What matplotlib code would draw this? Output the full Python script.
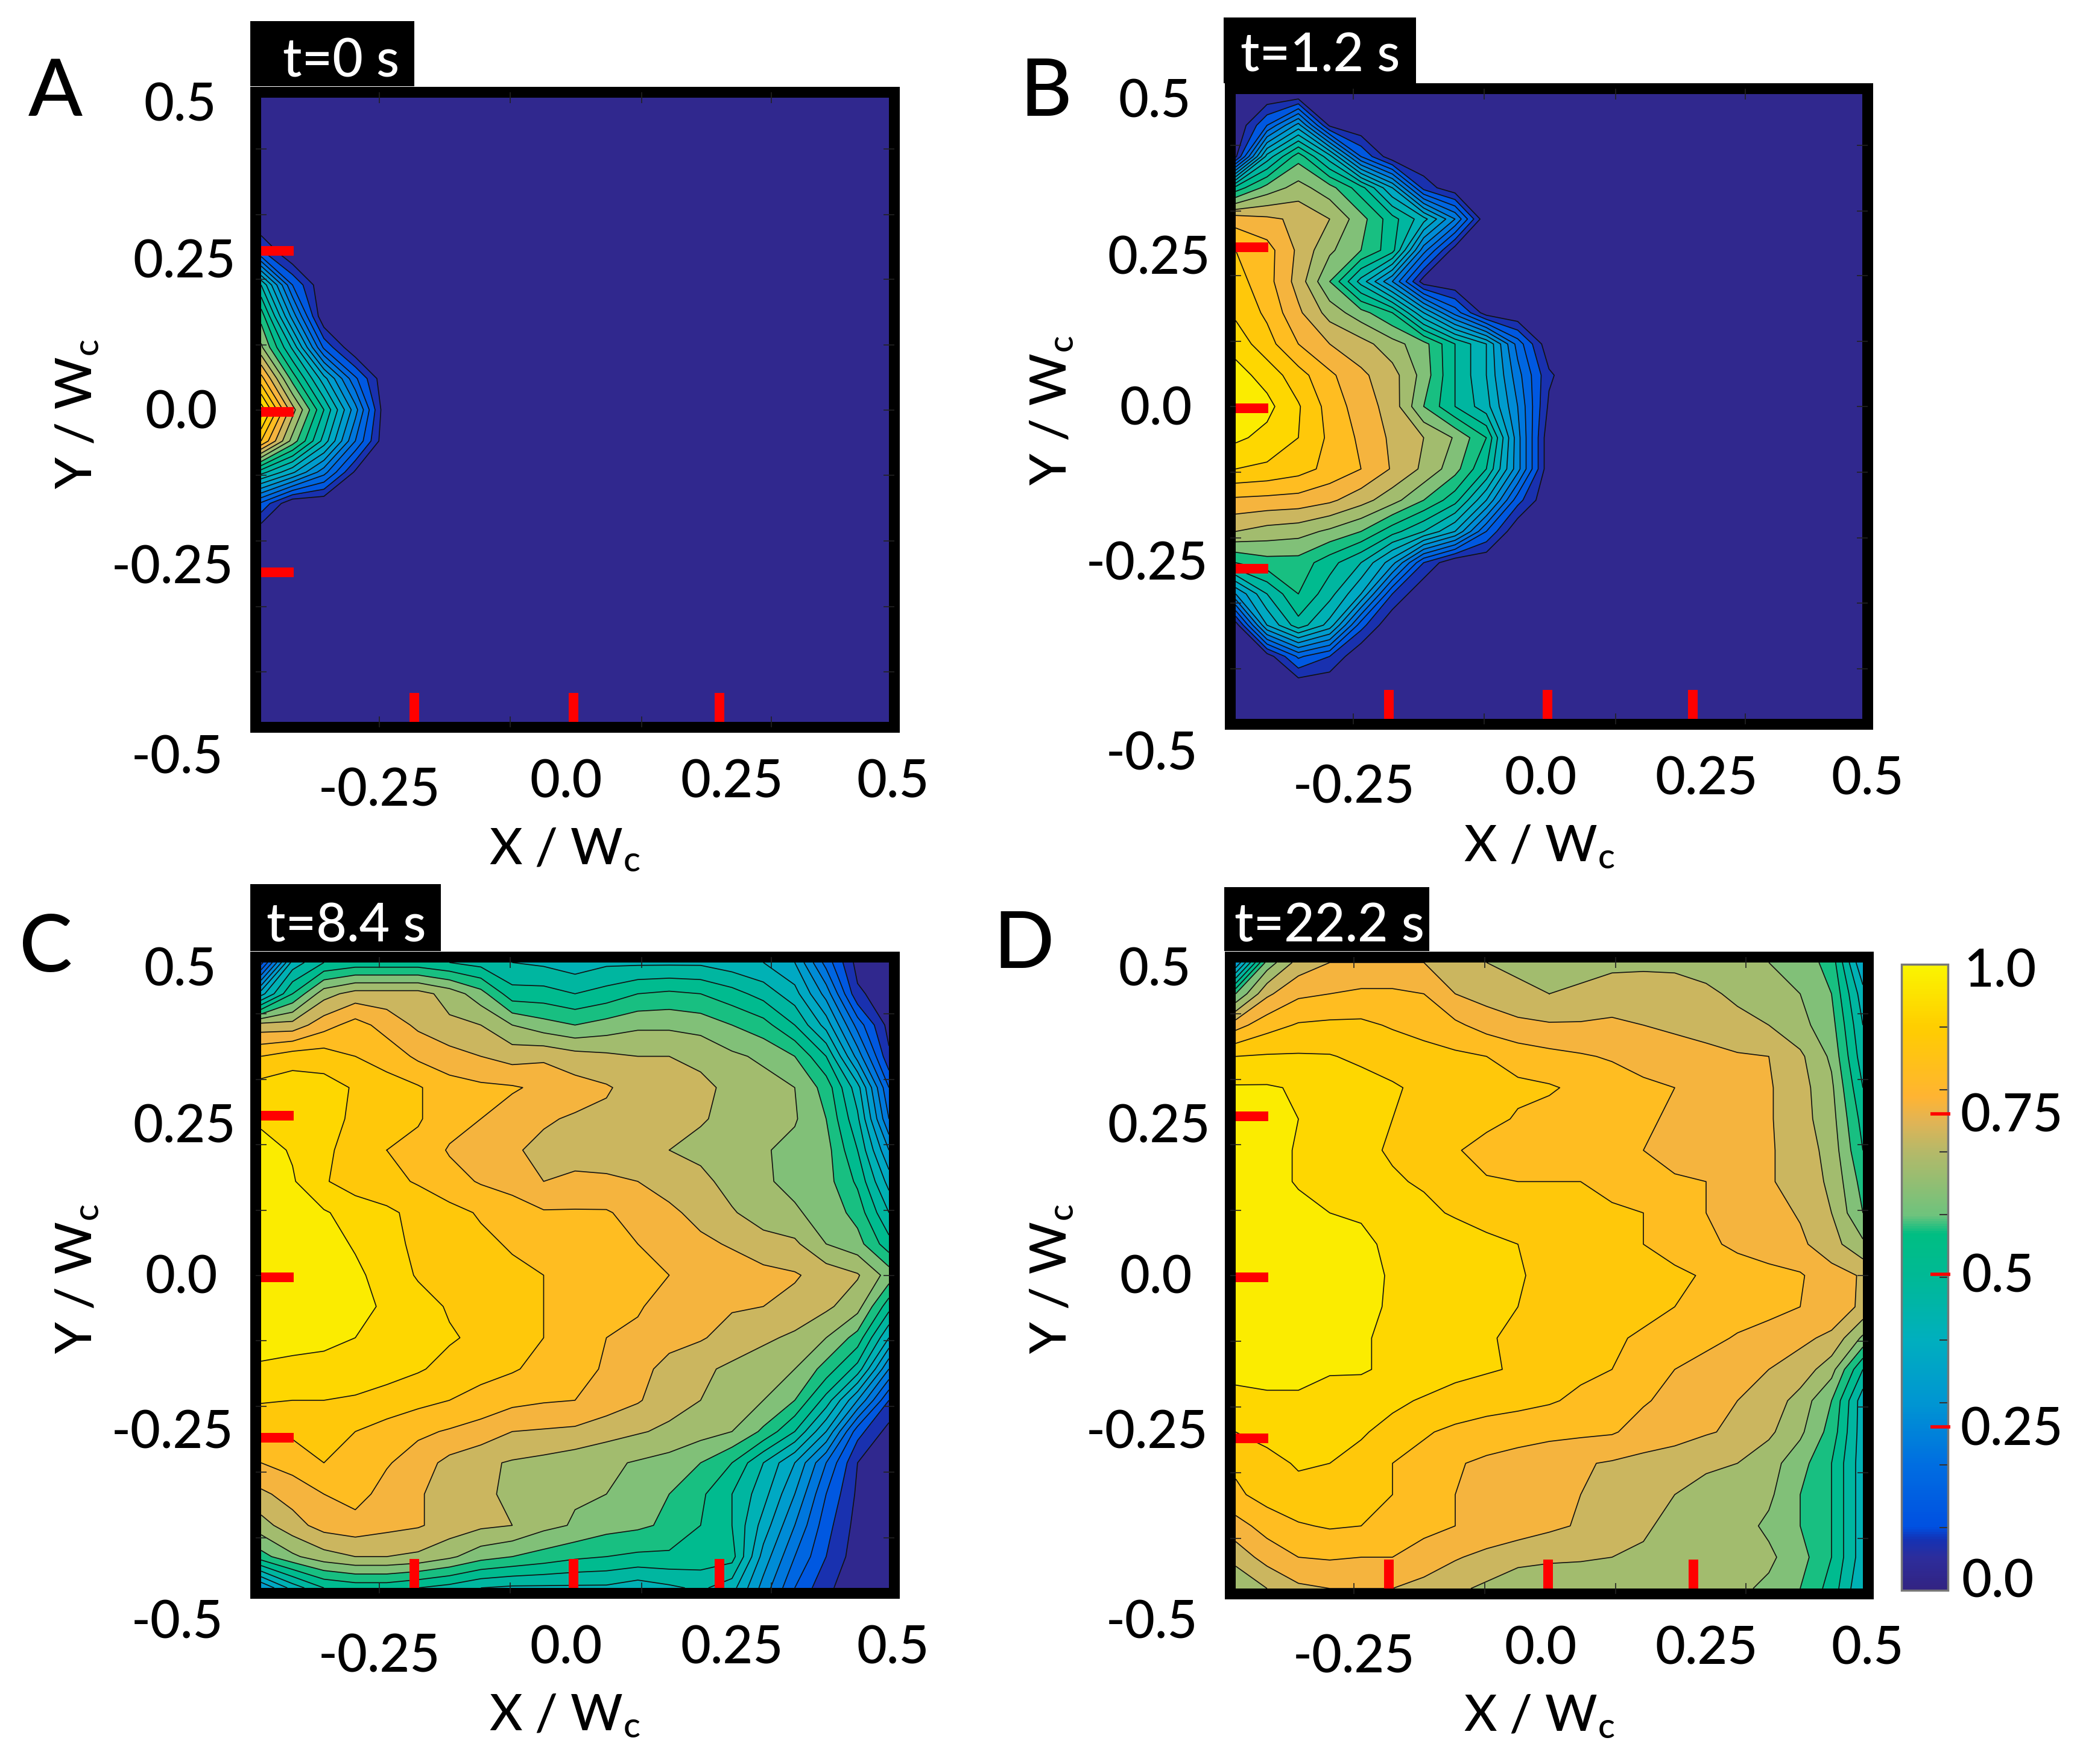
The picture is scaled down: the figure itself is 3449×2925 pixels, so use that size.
import numpy as np
import matplotlib
matplotlib.use("Agg")
import matplotlib.pyplot as plt
from matplotlib.colors import LinearSegmentedColormap, Normalize
from matplotlib.cm import ScalarMappable
from matplotlib.patches import Rectangle

plt.rcParams['font.family'] = ['Lato', 'DejaVu Sans']
plt.rcParams['font.weight'] = 'medium'
plt.rcParams['mathtext.default'] = 'regular'

W, H = 3449, 2925

x_grid = [-0.5, -0.45, -0.4, -0.35, -0.3, -0.25, -0.2, -0.15, -0.1, -0.05, 0.0,
          0.05, 0.1, 0.15, 0.2, 0.25, 0.3, 0.35, 0.4, 0.45, 0.5]
y_grid = [0.5, 0.45, 0.4, 0.35, 0.3, 0.25, 0.2, 0.15, 0.1, 0.05, 0.0,
          -0.05, -0.1, -0.15, -0.2, -0.25, -0.3, -0.35, -0.4, -0.45, -0.5]

rows_a = [
    [], [], [], [], [],
    [.12],
    [.45, .15],
    [.58, .28],
    [.66, .44, .14],
    [.82, .58, .37, .16],
    [.98, .72, .50, .27],
    [.85, .63, .43, .20],
    [.47, .36, .22, .04],
    [.14],
    [], [], [], [], [], [], [],
]
rows_b = [
    [],
    [0, .15, .32, .04],
    [.04, .42, .58, .42, .15, .01],
    [.52, .62, .67, .62, .52, .35, .08, .01],
    [.78, .76, .74, .70, .62, .52, .42, .25],
    [.85, .82, .74, .66, .60, .52, .22, .02],
    [.87, .82, .73, .60, .43, .25, .02],
    [.89, .84, .76, .68, .62, .55, .35, .18, .02],
    [.93, .87, .80, .75, .72, .67, .62, .50, .40, .18, .01],
    [.97, .93, .87, .81, .76, .72, .63, .50, .40, .22, .06],
    [1.0, .965, .905, .83, .775, .73, .60, .50, .42, .25, .04],
    [.96, .935, .90, .84, .79, .74, .70, .645, .55, .27, .01],
    [.90, .89, .87, .835, .80, .745, .69, .62, .50, .27, .01],
    [.79, .785, .78, .76, .72, .67, .60, .52, .35, .12],
    [.70, .68, .67, .64, .60, .52, .45, .35, .15],
    [.55, .58, .58, .52, .45, .32, .10],
    [.30, .45, .55, .47, .35, .10],
    [.02, .35, .48, .38, .12],
    [0, .02, .16, .10],
    [], [],
]
rows_c = [
    [.08, .42, .50, .52, .52, .52, .50, .48, .45, .44, .42, .44, .44, .44, .44, .42, .40, .35, .18, .03, .02],
    [.38, .55, .68, .72, .72, .72, .68, .62, .52, .52, .50, .52, .55, .56, .55, .52, .48, .42, .28, .06, .02],
    [.72, .72, .78, .82, .78, .74, .71, .70, .65, .62, .60, .62, .64, .64, .63, .60, .57, .50, .38, .18, .03],
    [.85, .875, .875, .85, .83, .79, .77, .75, .73, .74, .72, .71, .70, .70, .69, .66, .64, .60, .50, .28, .06],
    [.92, .93, .92, .895, .87, .855, .82, .81, .805, .79, .77, .755, .73, .72, .71, .69, .67, .65, .58, .42, .15],
    [.94, .94, .92, .89, .87, .855, .82, .80, .78, .755, .745, .74, .735, .72, .705, .685, .67, .655, .60, .46, .20],
    [.97, .945, .91, .88, .85, .835, .795, .78, .755, .74, .73, .735, .725, .70, .685, .67, .655, .635, .62, .50, .30],
    [.98, .955, .905, .875, .865, .845, .82, .795, .78, .75, .76, .755, .75, .73, .715, .68, .655, .64, .62, .54, .38],
    [.99, .97, .955, .93, .91, .885, .865, .845, .825, .805, .805, .805, .78, .76, .735, .705, .675, .655, .635, .58, .45],
    [1.0, .985, .97, .945, .915, .89, .875, .86, .845, .83, .82, .81, .80, .78, .76, .745, .72, .71, .65, .62, .52],
    [1.0, .99, .98, .96, .93, .895, .885, .87, .86, .85, .835, .825, .81, .80, .79, .775, .765, .755, .73, .705, .63],
    [1.0, .99, .98, .96, .945, .92, .895, .88, .865, .85, .835, .825, .805, .78, .765, .755, .75, .735, .71, .67, .52],
    [.98, .97, .965, .95, .93, .915, .905, .89, .87, .85, .83, .80, .79, .77, .755, .73, .71, .69, .65, .58, .40],
    [.94, .935, .93, .925, .92, .905, .885, .87, .855, .835, .815, .795, .77, .73, .71, .69, .67, .65, .58, .48, .25],
    [.905, .90, .90, .895, .88, .865, .85, .83, .815, .805, .80, .78, .755, .72, .70, .67, .65, .60, .48, .30, .10],
    [.855, .86, .865, .85, .83, .81, .795, .78, .75, .745, .74, .72, .705, .69, .67, .65, .59, .50, .35, .12, .03],
    [.80, .82, .85, .845, .805, .775, .735, .71, .695, .685, .67, .66, .645, .63, .60, .55, .45, .35, .20, .05, .02],
    [.74, .77, .80, .82, .78, .755, .73, .715, .685, .665, .655, .65, .62, .60, .56, .50, .42, .30, .15, .04, .02],
    [.68, .73, .77, .78, .765, .755, .73, .71, .70, .665, .645, .62, .61, .59, .55, .50, .38, .25, .12, .03, .02],
    [.58, .64, .68, .70, .70, .69, .66, .62, .60, .58, .56, .55, .54, .54, .53, .52, .33, .20, .10, .02, .02],
    [.30, .42, .50, .52, .52, .50, .48, .45, .44, .44, .44, .44, .42, .44, .46, .42, .28, .15, .06, .02, .02],
]
rows_d = [
    [.30, .62, .72, .75, .75, .75, .75, .73, .70, .68, .67, .68, .69, .69, .69, .68, .67, .65, .63, .58, .35],
    [.60, .74, .79, .80, .81, .81, .80, .75, .73, .72, .70, .71, .72, .725, .72, .71, .69, .67, .65, .60, .42],
    [.78, .83, .855, .86, .86, .845, .83, .81, .78, .76, .755, .755, .76, .75, .74, .73, .715, .70, .665, .62, .45],
    [.90, .905, .905, .903, .89, .88, .87, .86, .85, .83, .815, .805, .795, .78, .775, .765, .755, .75, .71, .64, .47],
    [.955, .955, .945, .93, .92, .905, .89, .87, .865, .86, .855, .84, .825, .81, .80, .785, .77, .755, .72, .66, .50],
    [.97, .97, .95, .92, .91, .90, .895, .88, .865, .845, .835, .825, .81, .805, .795, .785, .77, .755, .72, .67, .53],
    [.98, .97, .945, .925, .91, .895, .875, .855, .83, .825, .815, .81, .805, .80, .785, .775, .77, .755, .73, .68, .55],
    [.99, .97, .945, .925, .915, .905, .895, .875, .855, .85, .85, .85, .84, .82, .805, .80, .775, .755, .73, .69, .58],
    [1.0, .985, .965, .95, .945, .925, .91, .895, .875, .87, .865, .86, .855, .85, .825, .80, .785, .77, .745, .70, .60],
    [1.0, .99, .98, .97, .96, .94, .93, .925, .915, .90, .88, .875, .865, .85, .83, .81, .79, .775, .76, .72, .66],
    [1.0, .995, .985, .975, .965, .945, .93, .925, .915, .905, .885, .88, .875, .865, .86, .845, .825, .815, .805, .77, .745],
    [1.0, .995, .985, .975, .96, .945, .93, .92, .91, .90, .885, .875, .87, .86, .85, .84, .825, .815, .80, .78, .74],
    [.99, .985, .98, .97, .955, .94, .925, .915, .905, .89, .875, .86, .855, .845, .83, .815, .795, .78, .76, .74, .64],
    [.97, .97, .96, .955, .955, .94, .93, .915, .905, .895, .875, .86, .85, .825, .80, .78, .76, .75, .73, .67, .50],
    [.93, .94, .945, .93, .925, .91, .895, .88, .87, .865, .855, .84, .825, .805, .785, .765, .75, .73, .68, .60, .42],
    [.90, .915, .925, .925, .905, .885, .855, .84, .83, .82, .815, .81, .805, .78, .77, .755, .74, .71, .66, .58, .42],
    [.86, .885, .905, .90, .885, .85, .835, .805, .79, .78, .765, .755, .745, .735, .725, .705, .70, .67, .62, .55, .42],
    [.84, .87, .885, .88, .86, .85, .825, .80, .78, .765, .755, .75, .735, .72, .70, .69, .68, .66, .60, .55, .42],
    [.78, .82, .845, .855, .85, .825, .81, .80, .79, .775, .76, .745, .725, .705, .69, .68, .67, .64, .60, .55, .42],
    [.72, .77, .80, .805, .80, .80, .785, .755, .735, .72, .71, .705, .70, .695, .69, .68, .68, .66, .62, .55, .42],
    [.65, .70, .74, .75, .75, .75, .73, .71, .69, .66, .66, .67, .67, .67, .68, .67, .66, .64, .60, .53, .40],
]

panel_letters = ['A', 'B', 'C', 'D']
panel_times = ['t=0 s', 't=1.2 s', 't=8.4 s', 't=22.2 s']
x_labels = ['-0.25', '0.0', '0.25', '0.5']
y_labels = ['0.5', '0.25', '0.0', '-0.25', '-0.5']
cbar_labels = ['1.0', '0.75', '0.5', '0.25', '0.0']

levels = np.arange(0, 1.0001, 0.05)
line_levels = np.arange(0.05, 0.96, 0.05)

red_x = [-0.256, -0.002, 0.23]
red_y = [0.2546, -0.003, -0.26]
small_x = [-0.312, -0.103, 0.106, 0.313]
small_y = [0.418, 0.313, 0.209, 0.104, 0.0, -0.105, -0.21, -0.315, -0.42]
cbar_ticks = [0.1, 0.2, 0.3, 0.4, 0.5, 0.6, 0.7, 0.8, 0.9]
cbar_red = [0.761, 0.505, 0.261]

colors = [
    (0.0, (50, 35, 130)), (0.05, (45, 45, 155)), (0.08, (20, 50, 180)), (0.1, (0, 80, 225)),
    (0.2, (0, 110, 225)), (0.3, (0, 150, 210)), (0.4, (0, 175, 190)), (0.5, (0, 185, 150)),
    (0.57, (0, 190, 130)), (0.6, (110, 195, 125)), (0.7, (180, 185, 105)), (0.75, (225, 180, 85)),
    (0.79, (255, 180, 50)), (0.9, (255, 205, 0)), (1.0, (250, 245, 0)),
]
cmap = LinearSegmentedColormap.from_list(
    'parula_like', [(p, tuple(v / 255 for v in c)) for p, c in colors], N=256)

fig = plt.figure(figsize=(W / 100, H / 100), dpi=100, facecolor='white')

def fx(px):
    return px / W
def fy(py):
    return 1 - py / H

def pad(rows):
    return np.array([list(r) + [0.0] * (21 - len(r)) for r in rows], dtype=float)

# inner box of each panel, in pixels: left, right, top, bottom
boxes = [(433, 1474, 162, 1197), (2049, 3088, 156, 1192),
         (433, 1474, 1596, 2633), (2049, 3089, 1596, 2634)]
headers = [(415, 687, 35, 143, 566, 102), (2029, 2348, 29, 138, 2189, 93),
           (415, 731, 1466, 1577, 574, 1536), (2030, 2370, 1471, 1577, 2204, 1536)]
letter_pos = [(92, 155), (1734, 155), (76, 1574), (1698, 1567)]
frame = 18
xlab_off = [(196, 115), (506, 101), (781, 101), (1048, 101)]
ylab_off = [(-134, 14), (-127, 274), (-132, 524), (-147, 781), (-139, 1096)]

for k, rows in enumerate([rows_a, rows_b, rows_c, rows_d]):
    l, r, t, b = boxes[k]
    m = frame / 2
    ax = fig.add_axes([fx(l - m), fy(b + m), (r - l + 2 * m) / W, (b - t + 2 * m) / H])
    Z = pad(rows)
    ax.contourf(x_grid, y_grid, Z, levels=levels, cmap=cmap, vmin=0, vmax=1)
    ax.contour(x_grid, y_grid, Z, levels=line_levels, colors='#111111', linewidths=1.2)
    xm = 0.5 + m / (r - l)
    ym = 0.5 + m / (b - t)
    ax.set_xlim(-xm, xm)
    ax.set_ylim(-ym, ym)
    for s in ax.spines.values():
        s.set_linewidth(frame * 0.72)
        s.set_color('black')
        s.set_capstyle('projecting')
    ax.set_axisbelow(False)
    ax.set_xticks(small_x)
    ax.set_yticks(small_y)
    ax.tick_params(direction='in', length=13, width=1.2, color='#222222',
                   top=True, right=True, labelbottom=False, labelleft=False)
    sx = 1 / (r - l)
    sy = 1 / (b - t)
    for v in red_y:
        ax.plot([-0.5, -0.5 + 54 * sx], [v, v], color='#ff0000', lw=16 * 0.72,
                solid_capstyle='butt', zorder=6)
    for v in red_x:
        ax.plot([v, v], [-0.5, -0.5 + 48 * sy], color='#ff0000', lw=16 * 0.72,
                solid_capstyle='butt', zorder=6)

    h = headers[k]
    fig.add_artist(Rectangle((fx(h[0]), fy(h[3])), (h[1] - h[0]) / W, (h[3] - h[2]) / H,
                             transform=fig.transFigure, facecolor='black', edgecolor='none', zorder=5))
    fig.text(fx(h[4]), fy(h[5]), panel_times[k], color='white', fontsize=63,
             ha='center', va='center', zorder=6)
    fig.text(fx(letter_pos[k][0]), fy(letter_pos[k][1]), panel_letters[k], fontsize=95,
             ha='center', va='center', color='black')
    for lab, (dx, dy) in zip(x_labels, xlab_off):
        fig.text(fx(l + dx), fy(b + dy), lab, fontsize=62, ha='center', va='center', color='black')
    for lab, (dx, dy) in zip(y_labels, ylab_off):
        fig.text(fx(l + dx), fy(t + dy), lab, fontsize=62, ha='center', va='center', color='black')
    fig.text(fx(l + 503), fy(b + 212), r'X / W$_{c}$', fontsize=60, ha='center', va='center', color='black')
    fig.text(fx(l - 305), fy(t + 525), r'Y / W$_{c}$', fontsize=60, rotation=90,
             ha='center', va='center', color='black')

# colour bar
cax = fig.add_axes([fx(3153), fy(2637), (3230 - 3153) / W, (2637 - 1599) / H])
cb = fig.colorbar(ScalarMappable(Normalize(0, 1), cmap), cax=cax)
cb.set_ticks(cbar_ticks)
cb.ax.tick_params(direction='in', length=10, width=1.5, color='#333333', labelright=False)
cb.outline.set_edgecolor('#777777')
cb.outline.set_linewidth(2.5)
for v in cbar_red:
    cax.plot([0.62, 1.05], [v, v], color='#ff0000', lw=4, solid_capstyle='butt',
             clip_on=False, zorder=6, transform=cax.get_yaxis_transform())
for lab, px, py in zip(cbar_labels, [3316, 3336, 3313, 3336, 3313], [1612, 1852, 2118, 2372, 2624]):
    fig.text(fx(px), fy(py), lab, fontsize=62, ha='center', va='center', color='black')

fig.savefig('out.png', dpi=100, facecolor='white')
